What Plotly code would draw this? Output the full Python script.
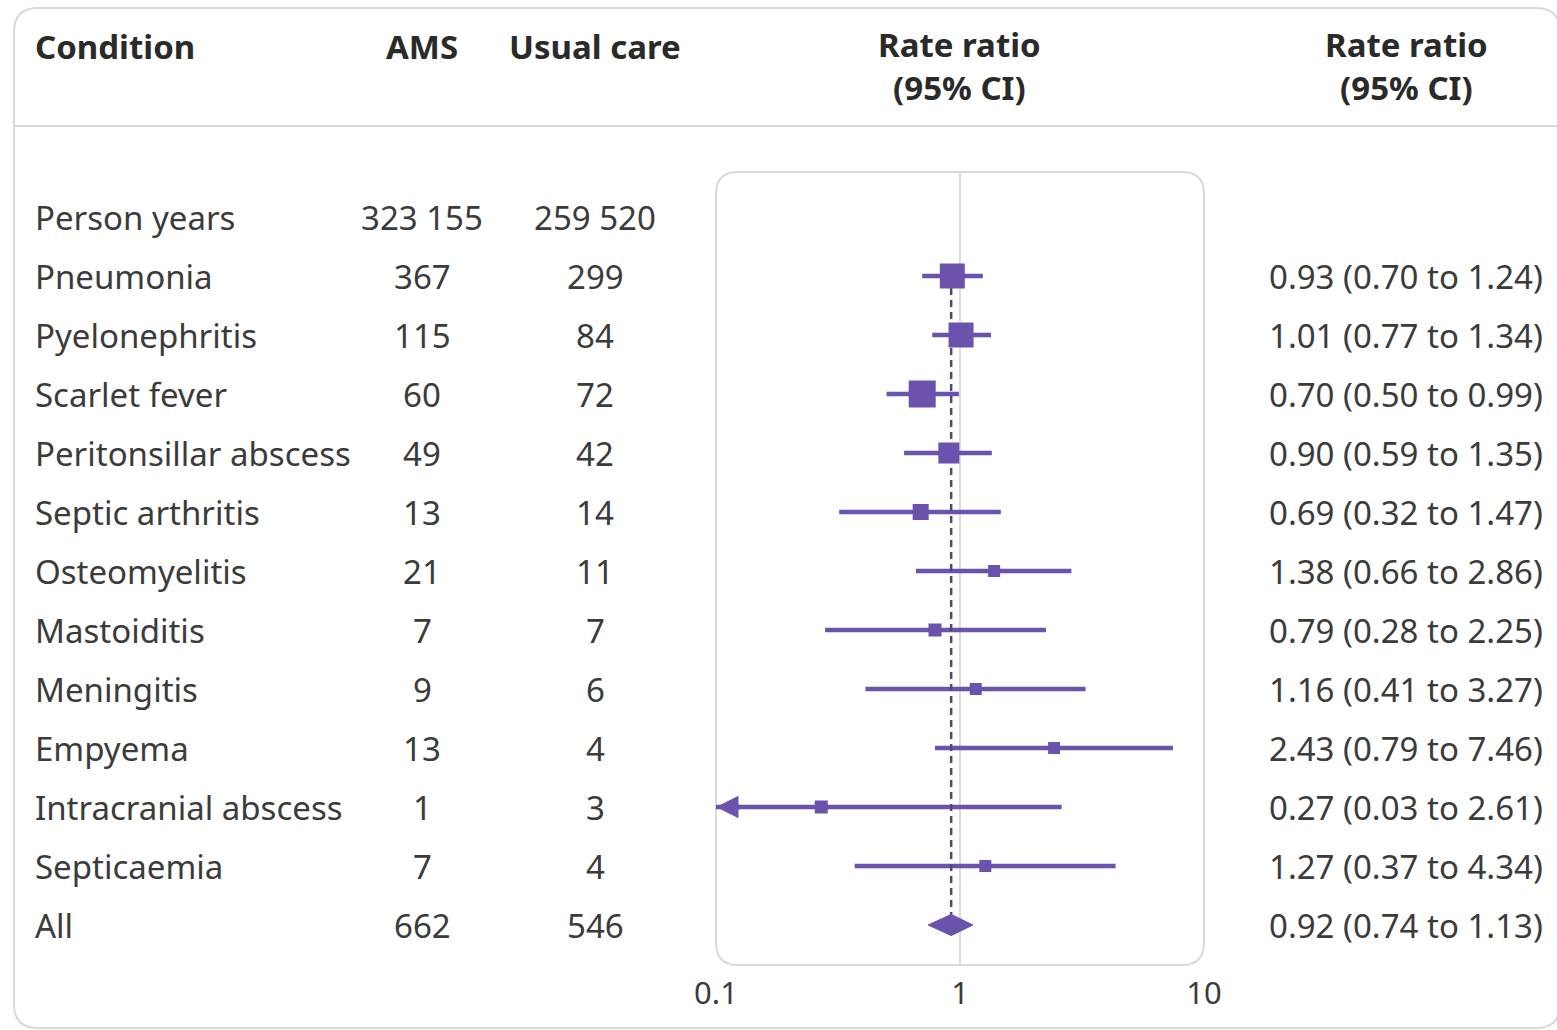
import math
import plotly.graph_objects as go

W, H = 1557, 1030

conditions = ["Person years", "Pneumonia", "Pyelonephritis", "Scarlet fever",
              "Peritonsillar abscess", "Septic arthritis", "Osteomyelitis",
              "Mastoiditis", "Meningitis", "Empyema", "Intracranial abscess",
              "Septicaemia", "All"]
ams = ["323 155", "367", "115", "60", "49", "13", "21", "7", "9", "13", "1", "7", "662"]
usual = ["259 520", "299", "84", "72", "42", "14", "11", "7", "6", "4", "3", "4", "546"]
rr = [None, 0.93, 1.01, 0.70, 0.90, 0.69, 1.38, 0.79, 1.16, 2.43, 0.27, 1.27, 0.92]
lo = [None, 0.70, 0.77, 0.50, 0.59, 0.32, 0.66, 0.28, 0.41, 0.79, 0.03, 0.37, 0.74]
hi = [None, 1.24, 1.34, 0.99, 1.35, 1.47, 2.86, 2.25, 3.27, 7.46, 2.61, 4.34, 1.13]
tick_vals = [0.1, 1, 10]
tick_text = ["0.1", "1", "10"]

# styling
marker_px = [None, 25, 25, 27, 21, 16, 12, 13, 12, 12, 13, 12, None]
PURPLE = "#6a52ad"
TEXT = "#3b3b3b"
HEAD = "#2a2a2a"
GRID = "#d9d9d9"
FONT = "Noto Sans"
FS = 33
XMIN = 0.1

rows = list(range(len(conditions)))
overall = len(conditions) - 1

def px(x):
    return x / W

def py(y):
    return 1 - y / H

fig = go.Figure()

# CI lines
lx, ly = [], []
for i in rows[1:overall]:
    lx += [max(lo[i], XMIN), hi[i], None]
    ly += [i, i, None]
fig.add_trace(go.Scatter(x=lx, y=ly, mode="lines",
                         line=dict(color=PURPLE, width=4.5),
                         hoverinfo="skip", showlegend=False, cliponaxis=False))

# overall dashed line
fig.add_trace(go.Scatter(x=[rr[overall], rr[overall]], y=[1, overall], mode="lines",
                         line=dict(color="#4e4a70", width=2.5, dash="7px,5px"),
                         hoverinfo="skip", showlegend=False))

# squares
sq_x = [rr[i] for i in rows[1:overall]]
sq_y = [i for i in rows[1:overall]]
sq_s = [marker_px[i] for i in rows[1:overall]]
fig.add_trace(go.Scatter(x=sq_x, y=sq_y, mode="markers", opacity=1,
                         marker=dict(symbol="square", size=sq_s, color=PURPLE, opacity=1,
                                     line=dict(width=0)),
                         hoverinfo="skip", showlegend=False, cliponaxis=False))

# diamond
dh = 0.18
fig.add_trace(go.Scatter(x=[lo[overall], rr[overall], hi[overall], rr[overall], lo[overall]],
                         y=[overall, overall - dh, overall, overall + dh, overall],
                         mode="lines", fill="toself", fillcolor=PURPLE,
                         line=dict(color=PURPLE, width=1), showlegend=False,
                         hoverinfo="skip"))

shapes = []
box_top = (965 - 172) / 965
shapes.append(dict(type="line", xref="x", yref="y domain", x0=1, x1=1, y0=0, y1=box_top,
                   line=dict(color="#cfcfcf", width=1.5), layer="below"))

def rounded_rect(x0, y0, x1, y1, rx, ry):
    return (f"M {x0+rx},{y0} L {x1-rx},{y0} Q {x1},{y0} {x1},{y0+ry} "
            f"L {x1},{y1-ry} Q {x1},{y1} {x1-rx},{y1} L {x0+rx},{y1} "
            f"Q {x0},{y1} {x0},{y1-ry} L {x0},{y0+ry} Q {x0},{y0} {x0+rx},{y0} Z")

bw, bh = 1204 - 716, 965
r = 22
shapes.append(dict(type="path", xref="x domain", yref="y domain",
                   path=rounded_rect(0, 0, 1, box_top, r / bw, r / bh),
                   line=dict(color=GRID, width=2), layer="below"))

ox0, oy0, ox1, oy1 = 14, 8, 1560, 1028
R = 24
outer = (f"M {px(ox0+R)},{py(oy0)} L {px(ox1-R)},{py(oy0)} Q {px(ox1)},{py(oy0)} {px(ox1)},{py(oy0+R)} "
         f"L {px(ox1)},{py(oy1-R)} Q {px(ox1)},{py(oy1)} {px(ox1-R)},{py(oy1)} "
         f"L {px(ox0+R)},{py(oy1)} Q {px(ox0)},{py(oy1)} {px(ox0)},{py(oy1-R)} "
         f"L {px(ox0)},{py(oy0+R)} Q {px(ox0)},{py(oy0)} {px(ox0+R)},{py(oy0)} Z")
shapes.append(dict(type="path", xref="paper", yref="paper", path=outer,
                   line=dict(color=GRID, width=2), layer="below"))
shapes.append(dict(type="line", xref="paper", yref="paper", x0=px(14), x1=px(1560),
                   y0=py(126), y1=py(126), line=dict(color=GRID, width=2), layer="below"))

annotations = []
def txt(x, y, s, anchor, size=FS, color=TEXT, bold=False, yref="y"):
    annotations.append(dict(x=px(x), y=y, xref="paper", yref=yref, text=(f"<b>{s}</b>" if bold else s),
                            showarrow=False, xanchor=anchor, yanchor="middle",
                            font=dict(family=FONT, size=size, color=color)))

txt(33, py(47), "Condition", "left", color=HEAD, bold=True, yref="paper")
txt(422, py(47), "AMS", "center", color=HEAD, bold=True, yref="paper")
txt(595, py(47), "Usual care", "center", color=HEAD, bold=True, yref="paper")
for cx in (960, 1406):
    txt(cx, py(66), "Rate ratio<br>(95% CI)", "center", color=HEAD, bold=True, yref="paper")

for i in rows:
    txt(33, i, conditions[i], "left")
    txt(422, i, ams[i], "center")
    txt(595, i, usual[i], "center")
    if rr[i] is not None:
        txt(1406, i, f"{rr[i]:.2f} ({lo[i]:.2f} to {hi[i]:.2f})", "center")

ai = conditions.index("Intracranial abscess")
annotations.append(dict(x=math.log10(XMIN), y=ai, xref="x", yref="y", ax=26, ay=0,
                        text="", showarrow=True, arrowhead=2, arrowsize=1.0,
                        arrowwidth=4.5, arrowcolor=PURPLE, standoff=0))

y_lo = (0 - 217) / 59
y_hi = (965 - 217) / 59

fig.update_layout(
    width=W, height=H, margin=dict(l=0, r=0, t=0, b=0, pad=0), autosize=False,
    paper_bgcolor="white", plot_bgcolor="rgba(0,0,0,0)",
    shapes=shapes, annotations=annotations,
    xaxis=dict(type="log", range=[-1, 1], domain=[px(716), px(1204)], automargin=False,
               showgrid=False, zeroline=False, showline=False,
               tickvals=tick_vals, ticktext=tick_text, ticks="", ticklabelstandoff=7,
               tickfont=dict(family=FONT, size=31, color=TEXT)),
    yaxis=dict(range=[y_hi, y_lo], domain=[65 / H, 1], visible=False, automargin=False,
               showgrid=False, zeroline=False),
    showlegend=False,
)

fig.write_html("out.html", config={"displayModeBar": False},
               post_script="document.body.style.margin='0';")
